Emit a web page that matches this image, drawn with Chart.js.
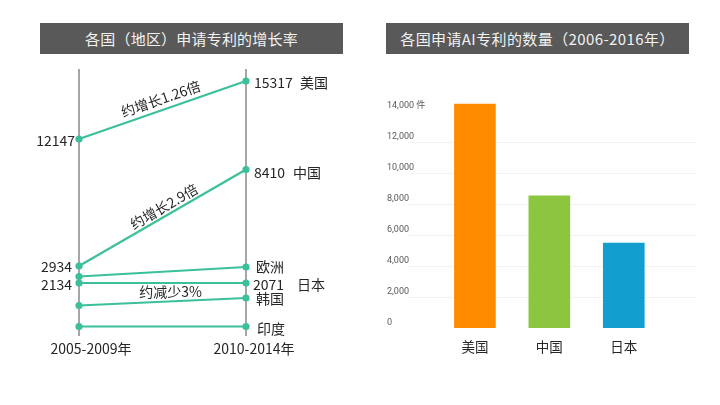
<!DOCTYPE html>
<html>
<head>
<meta charset="utf-8">
<style>
  body { margin: 0; background: #fff; width: 720px; height: 405px; overflow: hidden; position: relative; font-family: "Noto Sans CJK SC", sans-serif; }
  canvas { position: absolute; top: 0; }
  #graficoCrescita { left: 0; }
  #graficoBrevetti { left: 360px; }
  .titolo { position: absolute; top: 23px; height: 31px; line-height: 31px; width: 303px; background: #595959; color: #f2f2f2; font-size: 15px; text-align: center; }
</style>
<script src="https://cdn.jsdelivr.net/npm/chart.js@4"></script>
</head>
<body>
<div class="titolo" style="left:40px;letter-spacing:0.2px">各国（地区）申请专利的增长率</div>
<div class="titolo" style="left:386px;letter-spacing:0.4px">各国申请AI专利的数量（2006-2016年）</div>
<canvas id="graficoCrescita" width="360" height="405"></canvas>
<canvas id="graficoBrevetti" width="360" height="405"></canvas>
<script>
// left panel: the source is a schematic, its heights do not follow the printed numbers,
// so the values are the heights
var periodi = ['2005-2009年', '2010-2014年'];
var altezzaUSA = [197, 255];
var altezzaCina = [70, 166.5];
var altezzaEuropa = [59.5, 69];
var altezzaGiappone = [53, 53];
var altezzaCorea = [30.5, 38];
var altezzaIndia = [9.5, 9.5];

// right panel
var paesi = ['美国', '中国', '日本'];
var brevetti = [14450, 8520, 5480];
var coloriBarre = ['#ff8c00', '#8cc63f', '#129fcf'];

var FONT = '"Noto Sans CJK SC", sans-serif';
var NERO = '#262626';
var VERDE = '#3cbf9b';

function serie(nome, valori) {
    return {
        label: nome,
        data: valori,
        borderColor: VERDE,
        backgroundColor: VERDE,
        borderWidth: 2.2,
        pointRadius: 2.5,
        clip: false
    };
}

// text next to the lines: [dataset, point, text, dx, dy, align]
var etichette = [
    [0, 0, '12147', -4, 2, 'right'],
    [0, 1, '15317', 8, 2, 'left'],
    [0, 1, '美国', 54, 2, 'left'],
    [1, 0, '2934', -7, 1, 'right'],
    [1, 1, '8410', 8, 3, 'left'],
    [1, 1, '中国', 47, 3, 'left'],
    [2, 1, '欧洲', 10, 0, 'left'],
    [3, 0, '2134', -7, 2, 'right'],
    [3, 1, '2071', 7, 2, 'left'],
    [3, 1, '日本', 51, 2, 'left'],
    [4, 1, '韩国', 10, 1, 'left'],
    [5, 1, '印度', 11, 2, 'left']
];

// text along the lines: [dataset, text, dx, dy, rotated]
var noteLinee = [
    [0, '约增长1.26倍', 2, -4, true],
    [1, '约增长2.9倍', 7, -2, true],
    [4, '约减少3%', 8, -3, false]
];

var testiCrescita = {
    id: 'testiCrescita',
    afterDatasetsDraw: function(chart) {
        var ctx = chart.ctx;
        var sx = chart.scales.x, sy = chart.scales.y;
        ctx.save();
        ctx.fillStyle = NERO;
        ctx.textBaseline = 'middle';
        ctx.font = '14px ' + FONT;

        etichette.forEach(function(e) {
            var v = chart.data.datasets[e[0]].data[e[1]];
            ctx.textAlign = e[5];
            ctx.fillText(e[2], sx.getPixelForValue(e[1]) + e[3], sy.getPixelForValue(v) + e[4]);
        });

        noteLinee.forEach(function(n) {
            var d = chart.data.datasets[n[0]].data;
            var x0 = sx.getPixelForValue(0), x1 = sx.getPixelForValue(1);
            var y0 = sy.getPixelForValue(d[0]), y1 = sy.getPixelForValue(d[1]);
            ctx.save();
            ctx.translate((x0 + x1) / 2, (y0 + y1) / 2);
            if (n[4]) ctx.rotate(Math.atan2(y1 - y0, x1 - x0));
            ctx.textAlign = 'center';
            ctx.textBaseline = 'bottom';
            ctx.fillText(n[1], n[2], n[3]);
            ctx.restore();
        });

        // period names sit a little to the right of their axis
        ctx.textAlign = 'center';
        ctx.fillText(periodi[0], sx.getPixelForValue(0) + 12, 349);
        ctx.fillText(periodi[1], sx.getPixelForValue(1) + 8, 349);
        ctx.restore();
    }
};

// grid lines run wider than the bars' category area
var griglia = {
    id: 'griglia',
    beforeDatasetsDraw: function(chart) {
        var ctx = chart.ctx, sy = chart.scales.y;
        ctx.save();
        ctx.strokeStyle = '#f2f2f2';
        ctx.lineWidth = 1;
        sy.ticks.forEach(function(t) {
            if (t.value === 0 || t.value >= 14000) return;
            var y = Math.round(sy.getPixelForValue(t.value)) + 0.5;
            ctx.beginPath();
            ctx.moveTo(48, y);
            ctx.lineTo(336, y);
            ctx.stroke();
        });
        ctx.restore();
    }
};

window.onload = function() {
    new Chart(document.getElementById('graficoCrescita').getContext('2d'), {
        type: 'line',
        data: {
            labels: periodi,
            datasets: [
                serie('美国', altezzaUSA),
                serie('中国', altezzaCina),
                serie('欧洲', altezzaEuropa),
                serie('日本', altezzaGiappone),
                serie('韩国', altezzaCorea),
                serie('印度', altezzaIndia)
            ]
        },
        plugins: [testiCrescita],
        options: {
            responsive: false,
            animation: false,
            layout: { padding: { left: 79, right: 114, top: 69, bottom: 69 } },
            plugins: { legend: { display: false }, tooltip: { enabled: false } },
            scales: {
                x: {
                    offset: false,
                    border: { display: false },
                    grid: { color: '#a6a6a6', lineWidth: 2, drawTicks: false },
                    ticks: { display: false }
                },
                y: { display: false, min: 0, max: 267 }
            }
        }
    });

    new Chart(document.getElementById('graficoBrevetti').getContext('2d'), {
        type: 'bar',
        data: {
            labels: paesi,
            datasets: [{
                data: brevetti,
                backgroundColor: coloriBarre,
                barThickness: 41
            }]
        },
        plugins: [griglia],
        options: {
            responsive: false,
            animation: false,
            layout: { padding: { left: 27, right: 59, top: 80, bottom: 0 } },
            plugins: { legend: { display: false }, tooltip: { enabled: false } },
            scales: {
                x: {
                    border: { display: false },
                    grid: { display: false, drawTicks: false },
                    ticks: { color: NERO, padding: 11, font: { family: FONT, size: 13.5 }, maxRotation: 0 },
                    afterFit: function(s) { s.height = 77; }
                },
                y: {
                    min: 0,
                    max: 16000,
                    border: { display: false },
                    grid: { display: false, drawTicks: false },
                    ticks: {
                        stepSize: 2000,
                        color: '#595959',
                        crossAlign: 'far',
                        labelOffset: -5,
                        padding: 0,
                        font: { family: 'Roboto, ' + FONT, size: 9 },
                        callback: function(v) {
                            if (v > 14000) return null;
                            var s = v.toLocaleString('en-US');
                            return v === 14000 ? s + ' 件' : s;
                        }
                    },
                    afterFit: function(s) { s.width = 50.7; }
                }
            }
        }
    });
};
</script>
</body>
</html>
